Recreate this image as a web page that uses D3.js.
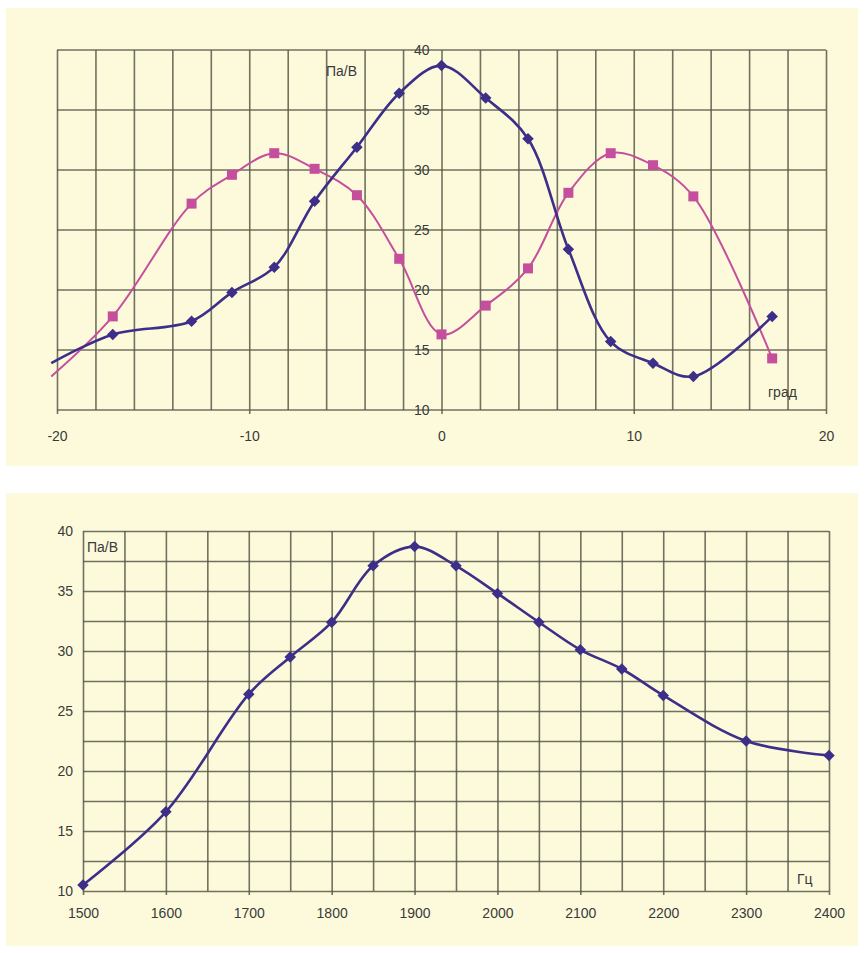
<!DOCTYPE html>
<html>
<head>
<meta charset="utf-8">
<script src="https://cdn.jsdelivr.net/npm/d3@7"></script>
<style>
  html, body { margin: 0; padding: 0; background: #ffffff; }
  svg { display: block; }
  text { font-family: "Liberation Sans", Arial, sans-serif; fill: #3a3a3a; }
</style>
</head>
<body>
<svg id="chart" width="866" height="953"></svg>
<script>
// ---- Data: top chart (angle, degrees) ----
const angleDeg   = [-20.3, -17.1, -13.0, -10.9, -8.7, -6.6, -4.4, -2.2, 0, 2.3, 4.5, 6.6, 8.8, 11.0, 13.1, 17.2];
const blueValues = [13.9, 16.3, 17.4, 19.8, 21.9, 27.4, 31.9, 36.4, 38.7, 36.0, 32.6, 23.4, 15.7, 13.9, 12.8, 17.8];
const pinkValues = [12.8, 17.8, 27.2, 29.6, 31.4, 30.1, 27.9, 22.6, 16.3, 18.7, 21.8, 28.1, 31.4, 30.4, 27.8, 14.3];
const angleMarker = [false, true, true, true, true, true, true, true, true, true, true, true, true, true, true, true];
const angleTickLabels = [-20, -10, 0, 10, 20];
const valueTickLabels = [10, 15, 20, 25, 30, 35, 40];

// ---- Data: bottom chart (frequency, Hz) ----
const freqHz     = [1500, 1600, 1700, 1750, 1800, 1850, 1900, 1950, 2000, 2050, 2100, 2150, 2200, 2300, 2400];
const freqValues = [10.5, 16.6, 26.4, 29.5, 32.4, 37.1, 38.7, 37.1, 34.8, 32.4, 30.1, 28.5, 26.3, 22.5, 21.3];
const freqTickLabels = [1500, 1600, 1700, 1800, 1900, 2000, 2100, 2200, 2300, 2400];

const unitY = "Па/В";
const unitAngle = "град";
const unitFreq = "Гц";

const svg = d3.select("#chart");
const PANEL = "#fdfadc";
const GRID = "#58584a";
const BLUE = "#3d2f88";
const PINK = "#c54f9c";
const label = d => String(d);

// panels
svg.append("rect").attr("x", 6).attr("y", 8).attr("width", 852).attr("height", 458).attr("fill", PANEL);
svg.append("rect").attr("x", 6).attr("y", 493).attr("width", 852).attr("height", 453).attr("fill", PANEL);

const diamond = d3.symbol().type(d3.symbolDiamond2 || d3.symbolDiamond).size(85);
const square = d3.symbol().type(d3.symbolSquare).size(100);

// ================= TOP CHART =================
{
  const x = d3.scaleLinear().domain([-20, 20]).range([57, 826]);
  const y = d3.scaleLinear().domain([10, 40]).range([410, 50]);
  const g = svg.append("g");

  const xAxis = d3.axisBottom(x)
    .tickValues(d3.range(-20, 21, 2))
    .tickSizeInner(-(y(10) - y(40)))
    .tickSizeOuter(0)
    .tickPadding(21)
    .tickFormat(d => angleTickLabels.includes(d) ? label(d) : "");
  const gx = g.append("g").attr("transform", `translate(0,${y(10)})`).call(xAxis);
  gx.select(".domain").remove();
  gx.selectAll(".tick line").attr("stroke", GRID).attr("stroke-width", 1.6).attr("stroke-opacity", 0.85)
    .attr("y1", d => angleTickLabels.includes(d) ? 4 : 0);
  gx.selectAll(".tick text").attr("font-size", 14).attr("fill", "#3a3a3a");

  g.append("g").selectAll("line").data(valueTickLabels).join("line")
    .attr("x1", x(-20)).attr("x2", x(20))
    .attr("y1", d => y(d)).attr("y2", d => y(d))
    .attr("stroke", GRID).attr("stroke-width", 1.6).attr("stroke-opacity", 0.85);

  const yAxis = d3.axisLeft(y).tickValues(valueTickLabels).tickSize(0).tickPadding(12).tickFormat(label);
  const gy = g.append("g").attr("transform", `translate(${x(0)},0)`).call(yAxis);
  gy.select(".domain").remove();
  gy.selectAll(".tick text").attr("font-size", 14).attr("fill", "#3a3a3a");

  g.append("text").attr("x", 326).attr("y", 76).attr("font-size", 14).text(unitY);
  g.append("text").attr("x", 768).attr("y", 397).attr("font-size", 14).text(unitAngle);

  const line = d3.line().curve(d3.curveCatmullRom.alpha(0.5)).x(d => x(d[0])).y(d => y(d[1]));
  const pinkPts = angleDeg.map((a, i) => [a, pinkValues[i], angleMarker[i]]);
  const bluePts = angleDeg.map((a, i) => [a, blueValues[i], angleMarker[i]]);

  g.append("path").datum(pinkPts).attr("d", line).attr("fill", "none").attr("stroke", PINK).attr("stroke-width", 2);
  g.append("path").datum(bluePts).attr("d", line).attr("fill", "none").attr("stroke", BLUE).attr("stroke-width", 2.6);

  g.append("g").selectAll("path").data(pinkPts.filter(d => d[2])).join("path")
    .attr("d", square).attr("transform", d => `translate(${x(d[0])},${y(d[1])})`).attr("fill", PINK);
  g.append("g").selectAll("path").data(bluePts.filter(d => d[2])).join("path")
    .attr("d", diamond).attr("transform", d => `translate(${x(d[0])},${y(d[1])})`).attr("fill", BLUE);
}

// ================= BOTTOM CHART =================
{
  const x = d3.scaleLinear().domain([1500, 2400]).range([83, 829]);
  const y = d3.scaleLinear().domain([10, 40]).range([891, 531]);
  const g = svg.append("g");

  const xAxis = d3.axisBottom(x)
    .tickValues(d3.range(1500, 2401, 50))
    .tickSizeInner(-(y(10) - y(40)))
    .tickSizeOuter(0)
    .tickPadding(17)
    .tickFormat(d => freqTickLabels.includes(d) ? label(d) : "");
  const gx = g.append("g").attr("transform", `translate(0,${y(10)})`).call(xAxis);
  gx.select(".domain").remove();
  gx.selectAll(".tick line").attr("stroke", GRID).attr("stroke-width", 1.6).attr("stroke-opacity", 0.85)
    .attr("y1", d => freqTickLabels.includes(d) ? 4 : 0);
  gx.selectAll(".tick text").attr("font-size", 14).attr("fill", "#3a3a3a");

  const yAxis = d3.axisLeft(y)
    .tickValues(d3.range(10, 40.1, 2.5))
    .tickSizeInner(-(x(2400) - x(1500)))
    .tickSizeOuter(0)
    .tickPadding(10)
    .tickFormat(d => valueTickLabels.includes(d) ? label(d) : "");
  const gy = g.append("g").attr("transform", `translate(${x(1500)},0)`).call(yAxis);
  gy.select(".domain").remove();
  gy.selectAll(".tick line").attr("stroke", GRID).attr("stroke-width", 1.6).attr("stroke-opacity", 0.85);
  gy.selectAll(".tick text").attr("font-size", 14).attr("fill", "#3a3a3a");

  g.append("text").attr("x", 87).attr("y", 552).attr("font-size", 14).text(unitY);
  g.append("text").attr("x", 797).attr("y", 884).attr("font-size", 14).text(unitFreq);

  const line = d3.line().curve(d3.curveCatmullRom.alpha(0.5)).x(d => x(d[0])).y(d => y(d[1]));
  const pts = freqHz.map((f, i) => [f, freqValues[i]]);
  g.append("path").datum(pts).attr("d", line).attr("fill", "none").attr("stroke", BLUE).attr("stroke-width", 2.6);
  g.append("g").selectAll("path").data(pts).join("path")
    .attr("d", diamond).attr("transform", d => `translate(${x(d[0])},${y(d[1])})`).attr("fill", BLUE);
}
</script>
</body>
</html>
